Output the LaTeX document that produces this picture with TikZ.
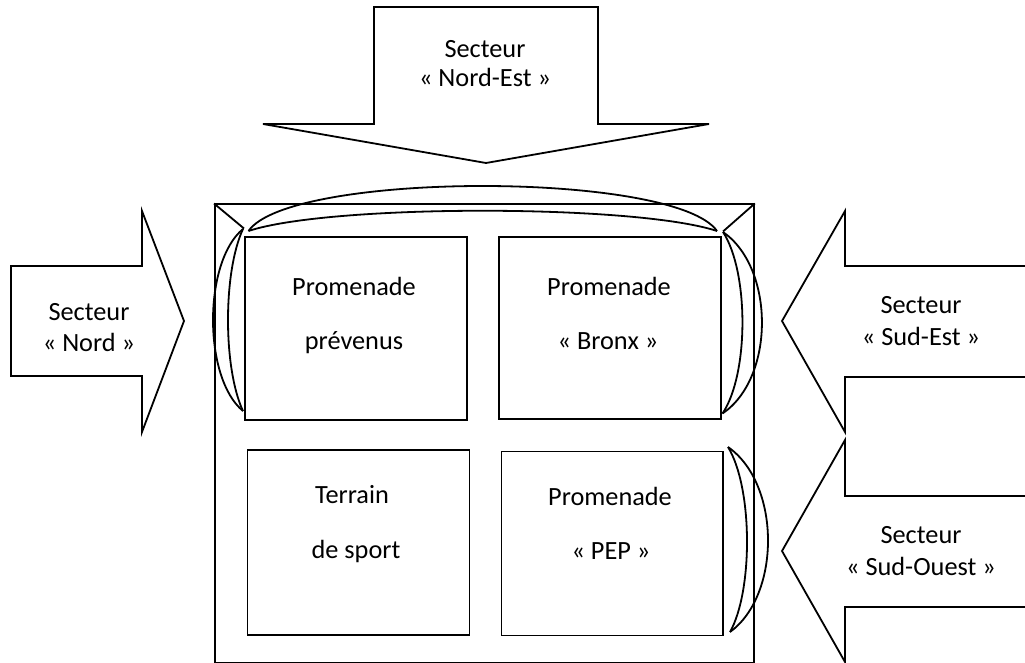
\documentclass[tikz,border=0pt]{standalone}
\usepackage{fontspec}
\setmainfont{Carlito}
\begin{document}
\begin{tikzpicture}[x=1pt,y=-1pt,
  line/.style={draw=black,line width=1.8pt,line join=miter},
  arrowshape/.style={line,fill=white},
  zone/.style={draw=black,line width=1.8pt,rectangle,inner sep=0pt,anchor=north west},
  lbl/.style={font=\fontsize{26.3}{30}\selectfont,anchor=base,inner sep=0pt}]
\useasboundingbox (0,0) rectangle (1025,663);
% main enclosure
\node[zone,minimum width=539pt,minimum height=458pt] (enc) at (214,203.5) {};
% corner diagonals
\coordinate (dTL) at (244,228.5);
\coordinate (dTR) at (723,231.5);
\draw[line] (enc.north west) -- (dTL);
\draw[line] (enc.north east) -- (dTR);
% inner zones
\node[zone,minimum width=222pt,minimum height=183pt] (prev) at (244,236) {};
\node[zone,minimum width=222pt,minimum height=182pt] (bronx) at (498,236) {};
\node[zone,minimum width=222pt,minimum height=185pt] (terr) at (246.5,449) {};
\node[zone,minimum width=221.5pt,minimum height=184pt] (pep) at (500.5,450.5) {};
% lenses
\coordinate (lT) at (243,229);
\coordinate (lB) at (243,411);
\draw[line] (lT) .. controls (203,262) and (203,378) .. (lB);
\draw[line] (lT) .. controls (223,272) and (223,368) .. (lB);
\coordinate (tL) at (248.5,231);
\coordinate (tR) at (717,231);
\draw[line] (tL) .. controls (290,171) and (675,171) .. (tR);
\draw[line] (tL) .. controls (330,204) and (635,204) .. (tR);
\coordinate (rT) at (723,232);
\coordinate (rB) at (722.5,413.5);
\draw[line] (rT) .. controls (775,268) and (775,378) .. (rB);
\draw[line] (rT) .. controls (749,272) and (749,374) .. (rB);
\coordinate (sT) at (728,447);
\coordinate (sB) at (730,632);
\draw[line] (sT) .. controls (781,484) and (781,595) .. (sB);
\draw[line] (sT) .. controls (753,488) and (753,591) .. (sB);
% arrows
\draw[arrowshape] (374,7) -- (598,7) -- (598,124) -- (709,124) -- (486,163) -- (263,124) -- (374,124) -- cycle;
\draw[arrowshape] (11,266) -- (142,266) -- (142,211) -- (184,321) -- (142,432) -- (142,376) -- (11,376) -- cycle;
\draw[arrowshape] (1030,266) -- (845,266) -- (845,211) -- (782,321) -- (845,432) -- (845,377) -- (1030,377);
\draw[arrowshape] (1030,496) -- (845,496) -- (845,440) -- (782,551) -- (845,662) -- (845,607) -- (1030,607);
% labels
\node[lbl] (ne1) at (485,58) {Secteur};
\node[lbl] (ne2) at (485,87) {« Nord-Est »};
\node[lbl] (n1) at (89,320) {Secteur};
\node[lbl] (n2) at (89,351) {« Nord »};
\node[lbl] (se1) at (921,313) {Secteur};
\node[lbl] (se2) at (921,345) {« Sud-Est »};
\node[lbl] (so1) at (921,543) {Secteur};
\node[lbl] (so2) at (921,575) {« Sud-Ouest »};
\node[lbl] (p1) at (354,295) {Promenade};
\node[lbl] (p2) at (354,349) {prévenus};
\node[lbl] (b1) at (609,295) {Promenade};
\node[lbl] (b2) at (608,349) {« Bronx »};
\node[lbl] (t1) at (352,503) {Terrain};
\node[lbl] (t2) at (356,558) {de sport};
\node[lbl] (e1) at (610,505) {Promenade};
\node[lbl] (e2) at (611,559) {« PEP »};
\end{tikzpicture}
\end{document}
